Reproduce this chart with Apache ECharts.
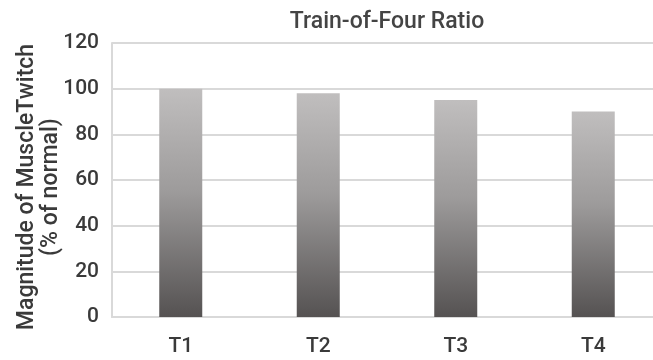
<!DOCTYPE html>
<html>
<head>
<meta charset="utf-8">
<script src="https://cdn.jsdelivr.net/npm/echarts@6/dist/echarts.min.js"></script>
<style>
html,body{margin:0;padding:0;background:#fff;}
#chart{width:653px;height:360px;}
</style>
</head>
<body>
<div id="chart"></div>
<script>
var categories = ['T1', 'T2', 'T3', 'T4'];
var twitchValues = [100, 98, 95, 90];
var yTicks = [0, 20, 40, 60, 80, 100, 120];
var titleText = 'Train-of-Four Ratio';
var yAxisTitle = 'Magnitude of MuscleTwitch\n(% of normal)';

var chart = echarts.init(document.getElementById('chart'), null, {renderer: 'canvas'});
var textColor = '#3a3a3a';
var fontFam = 'Roboto, "Liberation Sans", Arial, sans-serif';

chart.setOption({
  animation: false,
  backgroundColor: '#ffffff',
  title: {
    text: titleText,
    left: 382,
    textAlign: 'center',
    top: 6,
    textStyle: {fontFamily: fontFam, fontSize: 23, fontWeight: 500, color: '#444'}
  },
  grid: {left: 112, right: -9, top: 43, bottom: 43, containLabel: false, outerBoundsMode: 'none'},
  xAxis: {
    type: 'category',
    data: categories,
    axisLine: {show: true, lineStyle: {color: '#d9d9d9', width: 2}},
    axisTick: {show: false},
    axisLabel: {fontFamily: fontFam, fontSize: 21, fontWeight: 500, color: textColor, margin: 19}
  },
  yAxis: {
    type: 'value',
    min: yTicks[0],
    max: yTicks[yTicks.length - 1],
    interval: yTicks[1] - yTicks[0],
    name: yAxisTitle,
    nameLocation: 'middle',
    nameGap: 49,
    nameMoveOverlap: false,
    nameRotate: 90,
    nameTextStyle: {fontFamily: fontFam, fontSize: 23, fontWeight: 500, color: textColor, lineHeight: 24, align: 'center', padding: [0, 14, 0, 0]},
    axisLine: {show: true, lineStyle: {color: '#d9d9d9', width: 2}},
    axisTick: {show: false},
    axisLabel: {fontFamily: fontFam, fontSize: 21, fontWeight: 500, color: textColor, margin: 13},
    splitLine: {show: true, lineStyle: {color: '#d9d9d9', width: 2}}
  },
  series: [{
    type: 'bar',
    data: twitchValues,
    barWidth: 43,
    itemStyle: {
      color: new echarts.graphic.LinearGradient(0, 0, 0, 1, [
        {offset: 0, color: '#c0bebe'},
        {offset: 0.45, color: '#9d9b9b'},
        {offset: 1, color: '#555252'}
      ])
    }
  }]
});
</script>
</body>
</html>
